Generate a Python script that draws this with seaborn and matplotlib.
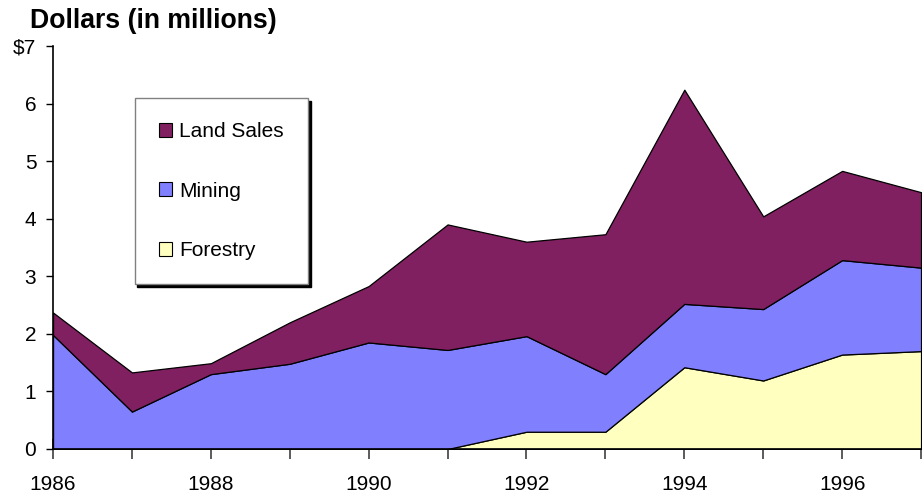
import numpy as np
import matplotlib
matplotlib.use("Agg")
import matplotlib.pyplot as plt
import seaborn as sns

# data (millions of dollars)
years    = [1986, 1987, 1988, 1989, 1990, 1991, 1992, 1993, 1994, 1995, 1996, 1997]
forestry = [0.00, 0.00, 0.00, 0.00, 0.00, 0.00, 0.30, 0.30, 1.42, 1.19, 1.64, 1.70]
mining   = [1.98, 0.65, 1.30, 1.48, 1.85, 1.72, 1.66, 1.00, 1.10, 1.24, 1.64, 1.45]
land     = [0.39, 0.68, 0.19, 0.72, 0.98, 2.18, 1.64, 2.43, 3.72, 1.61, 1.55, 1.31]
series_names = ["Forestry", "Mining", "Land Sales"]
ytick_labels = ["0", "1", "2", "3", "4", "5", "6", "$7"]

colors = ["#FFFFC0", "#8080FF", "#802060"]

sns.set_theme(style="white")
plt.rcParams["font.family"] = ["Liberation Sans", "DejaVu Sans"]
plt.rcParams["text.color"] = "black"

fig = plt.figure(figsize=(9.24, 4.94), dpi=100)
ax = fig.add_axes([0.0574, 0.0911, 0.9394, 0.8159])

ax.stackplot(years, forestry, mining, land, colors=colors,
             labels=series_names, edgecolor="black", linewidth=0.9)

ax.set_xlim(1986, 1997)
ax.set_ylim(0, 7)

ax.set_yticks(range(8))
ax.set_yticklabels(ytick_labels)
ax.set_xticks(years)
ax.set_xticklabels([str(y) if y % 2 == 0 else "" for y in years])

ax.tick_params(axis="y", direction="out", length=5, width=1, color="black",
               pad=7, labelsize=15, left=True, labelcolor="black")
ax.tick_params(axis="x", direction="inout", length=15, width=1.2, color="#404040",
               pad=11, labelsize=15, bottom=True, labelcolor="black")

for side in ["top", "right"]:
    ax.spines[side].set_visible(False)
for side in ["left", "bottom"]:
    ax.spines[side].set_color("black")
    ax.spines[side].set_linewidth(1.2)
ax.grid(False)

handles, labels = ax.get_legend_handles_labels()
leg = ax.legend(handles[::-1], labels[::-1], loc="upper left",
                bbox_to_anchor=(0.094, 0.871), fontsize=15, frameon=True,
                fancybox=False, shadow={"color": "black", "alpha": 1},
                edgecolor="#808080", framealpha=1, labelspacing=1.95,
                borderpad=1.15, handlelength=0.65, handleheight=0.65,
                handletextpad=0.35, borderaxespad=0)
leg.get_frame().set_linewidth(1)
for h in leg.legend_handles:
    h.set_edgecolor("black")
    h.set_linewidth(0.8)

fig.text(0.032, 0.958, "Dollars (in millions)", fontsize=19.2, fontweight="bold",
         ha="left", va="center", color="black")

fig.savefig("out.png", dpi=100)
